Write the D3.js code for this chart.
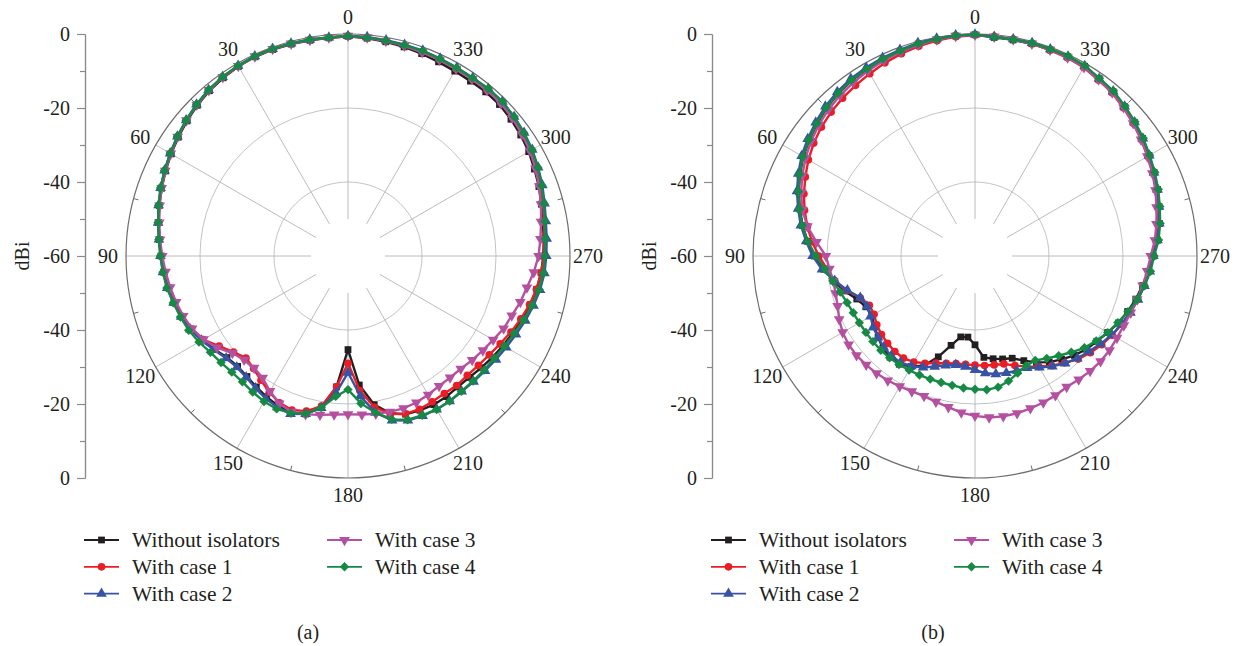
<!DOCTYPE html>
<html>
<head>
<meta charset="utf-8">
<script src="https://cdn.jsdelivr.net/npm/d3@7"></script>
<style>
  body { margin: 0; background: #fff; }
  svg { display: block; }
</style>
</head>
<body>
<svg></svg>
<script>
let width = 1249, height = 646;

let svg = d3.select("svg")
    .attr("width", width)
    .attr("height", height);

// angles (deg, counter-clockwise from top) and ticks
const angles = d3.range(0, 360, 5);
const angleLabels = d3.range(0, 360, 30);
const majorTicks = [0, -20, -40, -60];
const minorTicks = [-10, -30, -50];
const gridRings = [-40, -20];

const seriesNames = ["Without isolators", "With case 1", "With case 2", "With case 3", "With case 4"];
const seriesColors = ["#231f20", "#ec1c24", "#3853a4", "#b4509f", "#168945"];
const seriesSymbols = ["square", "circle", "triangle", "triangleDown", "diamond"];

// (a) gain in dBi, every 5 degrees from 0 to 355
const noIsoA = [-0.6,-0.8,-0.8,-0.7,-0.6,-0.6,-0.8,-1.2,-1.7,-2.4,-3.2,-4.0,-4.8,-5.6,-6.4,-7.2,-8.0,-8.8,
    -9.5,-10.0,-10.6,-11.3,-12.2,-13.2,-14.5,-16.0,-17.3,-17.8,-17.5,-16.8,-16.0,-15.3,-15.0,-15.8,-18.5,-24.5,
    -34.7,-25.0,-19.2,-16.0,-14.5,-14.0,-13.6,-13.6,-13.8,-13.6,-13.0,-12.3,-11.6,-10.8,-9.9,-9.0,-8.2,-7.6,
    -7.2,-6.9,-6.5,-5.9,-5.1,-4.4,-3.6,-3.0,-2.5,-2.1,-2.1,-2.3,-2.3,-2.1,-1.8,-1.5,-1.2,-0.9];
const case1A = [-0.6,-0.8,-0.7,-0.6,-0.5,-0.5,-0.7,-1.0,-1.5,-2.2,-3.0,-3.8,-4.6,-5.4,-6.2,-7.1,-8.0,-8.8,
    -9.5,-10.0,-10.7,-11.5,-12.3,-13.3,-14.8,-17.5,-19.6,-21.0,-20.3,-19.0,-17.5,-16.2,-15.7,-16.6,-18.8,-24.5,
    -31.0,-23.5,-18.5,-15.8,-14.6,-14.3,-14.5,-14.6,-14.3,-14.4,-14.0,-13.4,-12.5,-11.4,-10.3,-9.2,-8.3,-7.6,
    -7.1,-6.7,-6.2,-5.4,-4.6,-3.8,-3.0,-2.4,-1.9,-1.5,-1.5,-1.6,-1.6,-1.5,-1.3,-1.2,-1.0,-0.8];
const case2A = [-0.5,-0.7,-0.6,-0.5,-0.4,-0.4,-0.6,-0.9,-1.4,-2.1,-2.9,-3.7,-4.5,-5.3,-6.1,-7.0,-7.9,-8.7,
    -9.3,-9.8,-10.4,-11.2,-12.0,-13.0,-14.3,-15.8,-17.0,-17.5,-17.2,-16.4,-15.5,-14.9,-14.6,-15.8,-18.3,-22.8,
    -28.5,-22.0,-17.0,-14.0,-12.7,-12.3,-12.1,-12.1,-12.2,-12.0,-11.7,-11.2,-10.6,-9.9,-9.0,-8.1,-7.3,-6.7,
    -6.4,-6.1,-5.7,-5.0,-4.1,-3.3,-2.5,-1.9,-1.4,-1.0,-1.0,-1.2,-1.2,-1.1,-0.9,-0.9,-0.8,-0.6];
const case3A = [-0.5,-0.7,-0.7,-0.6,-0.5,-0.5,-0.7,-1.0,-1.5,-2.2,-3.0,-3.8,-4.7,-5.5,-6.4,-7.3,-8.2,-9.0,
    -9.8,-10.5,-11.2,-11.9,-12.6,-13.5,-14.9,-16.8,-19.2,-20.3,-20.5,-19.8,-17.8,-16.0,-15.2,-15.7,-16.4,-17.0,
    -17.2,-17.0,-16.7,-16.4,-16.2,-16.3,-16.7,-17.1,-17.1,-16.9,-16.2,-15.5,-14.7,-13.6,-12.9,-11.8,-10.9,-9.6,
    -8.5,-7.8,-7.0,-6.0,-5.0,-4.1,-3.2,-2.6,-2.0,-1.6,-1.5,-1.6,-1.6,-1.5,-1.4,-1.2,-1.0,-0.7];
const case4A = [-0.5,-0.7,-0.6,-0.5,-0.4,-0.4,-0.6,-0.9,-1.4,-2.1,-2.9,-3.7,-4.5,-5.3,-6.1,-7.0,-7.9,-8.7,
    -9.3,-9.8,-10.3,-11.1,-11.8,-12.5,-13.5,-14.6,-15.2,-15.6,-15.6,-15.1,-14.6,-14.4,-14.8,-15.9,-18.4,-21.9,
    -23.9,-20.0,-17.0,-14.3,-12.9,-12.5,-12.1,-12.1,-12.3,-12.2,-12.0,-11.8,-11.2,-10.5,-9.5,-8.5,-7.6,-7.0,
    -6.8,-6.5,-6.0,-5.2,-4.3,-3.4,-2.6,-2.0,-1.4,-1.0,-1.0,-1.3,-1.3,-1.2,-1.0,-1.0,-0.9,-0.7];

// (b)
const noIsoB = [-0.2,-0.3,-0.6,-0.7,-1.1,-1.3,-1.7,-2.0,-2.6,-3.3,-4.3,-5.3,-6.4,-7.8,-9.3,-11.0,-12.7,-14.6,
    -16.6,-19.0,-21.2,-23.5,-26.0,-27.5,-27.8,-26.8,-25.8,-24.8,-24.3,-24.3,-25.5,-27.3,-31.0,-35.0,-37.8,-38.0,
    -36.0,-32.5,-31.8,-31.2,-30.6,-28.8,-26.8,-25.0,-23.5,-22.0,-20.8,-19.8,-18.6,-17.2,-16.1,-15.0,-14.0,-12.9,
    -11.8,-10.5,-9.4,-8.5,-7.5,-6.6,-5.7,-4.7,-3.8,-2.9,-2.0,-1.5,-0.8,-0.6,-0.7,-0.6,-0.7,-0.7];
const case1B = [-0.3,-0.5,-0.9,-1.3,-1.8,-2.4,-3.1,-3.7,-4.3,-5.0,-5.8,-6.8,-8.0,-9.4,-10.8,-12.3,-14.0,-15.8,
    -17.8,-19.8,-21.5,-24.0,-27.0,-28.5,-28.5,-27.6,-27.0,-26.6,-26.3,-26.3,-26.9,-28.0,-29.2,-30.0,-30.5,-30.6,
    -30.5,-30.3,-30.1,-29.8,-28.5,-27.0,-25.5,-23.8,-22.3,-20.6,-19.3,-18.2,-17.2,-16.3,-15.4,-14.5,-13.6,-12.8,
    -12.0,-10.8,-9.8,-8.9,-7.9,-7.0,-6.1,-5.1,-4.2,-3.3,-2.4,-1.9,-1.2,-0.9,-0.8,-0.6,-0.5,-0.4];
const case2B = [-0.1,-0.1,-0.3,-0.4,-0.7,-0.9,-1.2,-1.5,-2.1,-2.8,-3.8,-4.8,-5.9,-7.3,-8.8,-10.5,-12.2,-14.2,
    -16.1,-18.5,-21.5,-24.3,-27.0,-27.8,-27.4,-26.4,-25.8,-25.1,-24.8,-24.9,-25.6,-26.8,-28.2,-29.4,-30.1,-30.0,
    -29.2,-28.2,-27.6,-27.3,-27.0,-26.6,-25.2,-23.6,-22.1,-20.9,-19.8,-18.6,-17.3,-16.3,-15.3,-14.4,-13.5,-12.6,
    -11.8,-10.5,-9.4,-8.5,-7.5,-6.6,-5.6,-4.6,-3.7,-2.8,-1.9,-1.5,-0.7,-0.5,-0.5,-0.4,-0.5,-0.5];
const case3B = [-0.2,-0.3,-0.6,-0.9,-1.3,-1.7,-2.2,-2.7,-3.3,-4.0,-4.9,-5.9,-7.1,-8.5,-10.0,-11.7,-14.0,-17.0,
    -19.7,-20.5,-21.1,-21.0,-20.5,-19.5,-18.7,-18.3,-18.2,-18.4,-18.6,-18.9,-19.3,-19.6,-19.7,-19.2,-18.5,-17.5,
    -16.8,-16.2,-16.0,-16.0,-16.2,-16.3,-16.5,-16.8,-16.4,-16.0,-15.7,-15.6,-15.7,-15.6,-15.2,-14.6,-14.0,-13.3,
    -12.5,-11.2,-10.2,-9.2,-8.1,-7.1,-6.2,-5.2,-4.2,-3.2,-2.3,-1.8,-1.1,-0.8,-0.7,-0.6,-0.6,-0.5];
const case4B = [-0.1,-0.2,-0.5,-0.6,-1.0,-1.2,-1.6,-1.9,-2.5,-3.2,-4.2,-5.2,-6.3,-7.7,-9.2,-10.9,-12.6,-14.6,
    -17.0,-19.3,-21.0,-22.3,-23.2,-23.7,-23.9,-24.0,-24.0,-24.0,-24.1,-24.2,-24.4,-24.5,-24.6,-24.6,-24.5,-24.2,
    -24.0,-23.7,-24.0,-25.0,-26.3,-27.3,-27.4,-26.2,-24.8,-23.2,-21.4,-20.0,-18.6,-17.4,-16.0,-14.6,-13.5,-12.4,
    -11.6,-10.2,-9.2,-8.3,-7.3,-6.4,-5.5,-4.5,-3.6,-2.7,-1.8,-1.4,-0.6,-0.4,-0.5,-0.4,-0.6,-0.6];

const panels = [
    { cx: 348, tag: "(a)", tagX: 308, series: [noIsoA, case1A, case2A, case3A, case4A] },
    { cx: 975, tag: "(b)", tagX: 933, series: [noIsoB, case1B, case2B, case3B, case4B] }
];

const cy = 256, R = 222, spokeStart = 37;
const font = "'Liberation Serif', 'DejaVu Serif', serif";
const textColor = "#231f20";

let r = d3.scaleLinear().domain([-60, 0]).range([0, R]);
let rad = d => d * Math.PI / 180;

function symbolPath(kind, size) {
    let t = { square: d3.symbolSquare, circle: d3.symbolCircle, triangle: d3.symbolTriangle,
              triangleDown: d3.symbolTriangle, diamond: d3.symbolSquare }[kind];
    return d3.symbol().type(t).size(size)();
}
function symbolRotate(kind) {
    if (kind == "triangleDown") return 180;
    if (kind == "diamond") return 45;
    return 0;
}
const symbolSize = { square: 46, circle: 46, triangle: 50, triangleDown: 50, diamond: 44 };

panels.forEach(p => {
    let g = svg.append("g").attr("transform", "translate(" + p.cx + "," + cy + ")");

    // grid rings
    g.selectAll("circle.ring")
        .data(gridRings)
        .enter().append("circle")
        .attr("class", "ring")
        .attr("r", d => r(d))
        .attr("fill", "none")
        .attr("stroke", "#c4c4c4")
        .attr("stroke-width", 1);

    // spokes
    g.selectAll("line.spoke")
        .data(angleLabels)
        .enter().append("line")
        .attr("class", "spoke")
        .attr("x1", d => -spokeStart * Math.sin(rad(d)))
        .attr("y1", d => -spokeStart * Math.cos(rad(d)))
        .attr("x2", d => -R * Math.sin(rad(d)))
        .attr("y2", d => -R * Math.cos(rad(d)))
        .attr("stroke", "#b4b4b4")
        .attr("stroke-width", 0.9);

    // outer circle and its ticks
    g.append("circle")
        .attr("r", R)
        .attr("fill", "none")
        .attr("stroke", "#6d6d6d")
        .attr("stroke-width", 1.2);

    g.selectAll("line.otick")
        .data(d3.range(15, 360, 30))
        .enter().append("line")
        .attr("class", "otick")
        .attr("x1", d => -(R - 5) * Math.sin(rad(d)))
        .attr("y1", d => -(R - 5) * Math.cos(rad(d)))
        .attr("x2", d => -R * Math.sin(rad(d)))
        .attr("y2", d => -R * Math.cos(rad(d)))
        .attr("stroke", "#6d6d6d")
        .attr("stroke-width", 1);

    // angle labels
    g.selectAll("text.alabel")
        .data(angleLabels)
        .enter().append("text")
        .attr("class", "alabel")
        .attr("x", d => -240 * Math.sin(rad(d)))
        .attr("y", d => -239 * Math.cos(rad(d)))
        .attr("text-anchor", "middle")
        .attr("dominant-baseline", "central")
        .style("font-family", font)
        .style("font-size", "20px")
        .style("fill", textColor)
        .text(d => d);

    // series lines
    let line = d3.lineRadial()
        .angle(d => -rad(d[0]))
        .radius(d => r(d[1]))
        .curve(d3.curveLinearClosed);

    p.series.forEach((vals, i) => {
        let pts = angles.map((a, j) => [a, vals[j]]);
        g.append("path")
            .datum(pts)
            .attr("d", line)
            .attr("fill", "none")
            .attr("stroke", seriesColors[i])
            .attr("stroke-width", 2.4);

        let kind = seriesSymbols[i];
        g.append("g").selectAll("path")
            .data(pts)
            .enter().append("path")
            .attr("d", symbolPath(kind, symbolSize[kind]))
            .attr("transform", d => "translate(" + (-r(d[1]) * Math.sin(rad(d[0]))) + "," +
                (-r(d[1]) * Math.cos(rad(d[0]))) + ") rotate(" + symbolRotate(kind) + ")")
            .attr("fill", seriesColors[i]);
    });

    // radial axis on the left (symmetric: top and bottom halves)
    let ax = svg.append("g").attr("transform", "translate(" + (p.cx - 263) + ",0)");
    let yTop = d3.scaleLinear().domain([-60, 0]).range([cy, cy - R]);
    let yBot = d3.scaleLinear().domain([-60, 0]).range([cy, cy + R]);

    ax.append("g").call(d3.axisLeft(yTop).tickValues(majorTicks).tickSize(8).tickSizeOuter(0)
        .tickPadding(7).tickFormat(d => String(d)));
    ax.append("g").call(d3.axisLeft(yBot).tickValues(majorTicks.slice(0, 3)).tickSize(8).tickSizeOuter(0)
        .tickPadding(7).tickFormat(d => String(d)));
    ax.append("g").call(d3.axisLeft(yTop).tickValues(minorTicks).tickSize(5).tickSizeOuter(0).tickFormat(""));
    ax.append("g").call(d3.axisLeft(yBot).tickValues(minorTicks).tickSize(5).tickSizeOuter(0).tickFormat(""));

    ax.selectAll("path.domain").attr("stroke", "#8a8a8a").attr("stroke-width", 1.2);
    ax.selectAll(".tick line").attr("stroke", "#8a8a8a").attr("stroke-width", 1.2);
    ax.selectAll(".tick text")
        .style("font-family", font)
        .style("font-size", "20px")
        .style("fill", textColor);

    svg.append("text")
        .attr("transform", "translate(" + (p.cx - 326) + "," + cy + ") rotate(-90)")
        .attr("text-anchor", "middle")
        .attr("dominant-baseline", "central")
        .style("font-family", font)
        .style("font-size", "20px")
        .style("fill", textColor)
        .text("dBi");

    // legend
    let legend = svg.append("g").attr("transform", "translate(" + (p.cx - 264) + ",540)");
    let item = legend.selectAll("g")
        .data(seriesNames)
        .enter().append("g")
        .attr("transform", (d, i) => "translate(" + (i < 3 ? 0 : 243) + "," + ((i < 3 ? i : i - 3) * 26.8) + ")");

    item.append("line")
        .attr("x1", 0).attr("x2", 35)
        .attr("stroke", (d, i) => seriesColors[i])
        .attr("stroke-width", 1.8);
    item.append("path")
        .attr("d", (d, i) => symbolPath(seriesSymbols[i], symbolSize[seriesSymbols[i]]))
        .attr("transform", (d, i) => "translate(17.5,0) rotate(" + symbolRotate(seriesSymbols[i]) + ")")
        .attr("fill", (d, i) => seriesColors[i]);
    item.append("text")
        .attr("x", 48)
        .attr("y", 0)
        .attr("dominant-baseline", "central")
        .style("font-family", font)
        .style("font-size", "21.5px")
        .style("fill", textColor)
        .text(d => d);

    svg.append("text")
        .attr("x", p.tagX)
        .attr("y", 632)
        .attr("text-anchor", "middle")
        .attr("dominant-baseline", "central")
        .style("font-family", font)
        .style("font-size", "20px")
        .style("fill", textColor)
        .text(p.tag);
});
</script>
</body>
</html>
